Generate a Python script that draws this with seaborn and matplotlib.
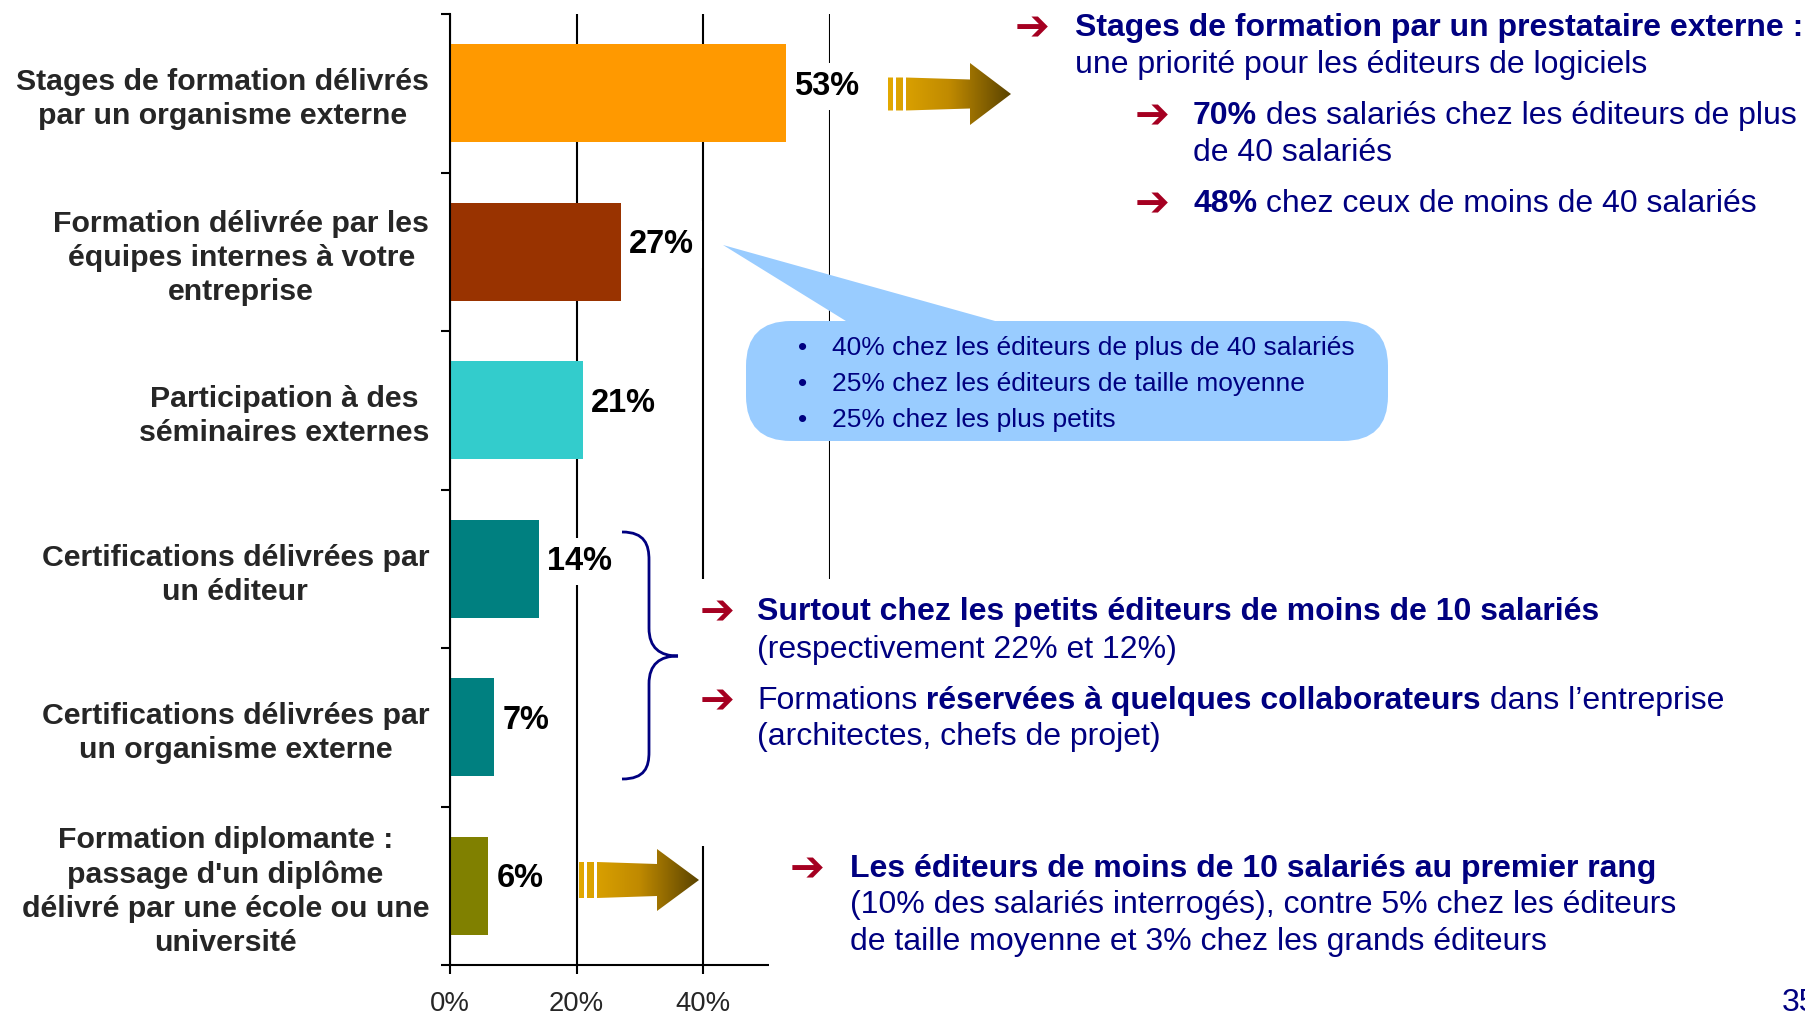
import numpy as np
import pandas as pd
import matplotlib.pyplot as plt
import seaborn as sns
from matplotlib.patches import Rectangle, Polygon, FancyBboxPatch, PathPatch
from matplotlib.path import Path
from matplotlib.colors import LinearSegmentedColormap
from matplotlib.ticker import FixedLocator, PercentFormatter

# --- donnees du graphique ---
categories = [
    "Stages de formation délivrés\npar un organisme externe",
    "Formation délivrée par les\néquipes internes à votre\nentreprise",
    "Participation à des\nséminaires externes",
    "Certifications délivrées par\nun éditeur",
    "Certifications délivrées par\nun organisme externe",
    "Formation diplomante :\npassage d'un diplôme\ndélivré par une école ou une\nuniversité",
]
values = [53, 27, 21, 14, 7, 6]
bar_colors = ["#FF9900", "#993300", "#33CCCC", "#008080", "#008080", "#808000"]
x_ticks = [0, 20, 40, 60]

bubble_lines = [
    "40% chez les éditeurs de plus de 40 salariés",
    "25% chez les éditeurs de taille moyenne",
    "25% chez les plus petits",
]

# commentaires (morceaux de texte, gras ou non)
note_top = [
    [("Stages de formation par un prestataire externe :", True)],
    [("une priorité pour les éditeurs de logiciels", False)],
]
note_top_70 = [
    [("70%", True), (" des salariés chez les éditeurs de plus", False)],
    [("de 40 salariés", False)],
]
note_top_48 = [
    [("48%", True), (" chez ceux de moins de 40 salariés", False)],
]
note_mid_1 = [
    [("Surtout chez les petits éditeurs de moins de 10 salariés", True)],
    [("(respectivement 22% et 12%)", False)],
]
note_mid_2 = [
    [("Formations", False), (" réservées à quelques collaborateurs", True),
     (" dans l’entreprise", False)],
    [("(architectes, chefs de projet)", False)],
]
note_bottom = [
    [("Les éditeurs de moins de 10 salariés au premier rang", True)],
    [("(10% des salariés interrogés), contre 5% chez les éditeurs", False)],
    [("de taille moyenne et 3% chez les grands éditeurs", False)],
]
page_number = "35"

NAVY = "#000080"
RED = "#A50021"
W, H = 1805, 1014

sns.set_style("white")
plt.rcParams["font.family"] = ["Liberation Sans", "DejaVu Sans"]

fig = plt.figure(figsize=(W / 100, H / 100), dpi=100)
ax = fig.add_axes([450 / W, 49 / H, 380 / W, 951 / H])

df = pd.DataFrame({"categorie": categories, "pct": values})
sns.barplot(data=df, x="pct", y="categorie", hue="categorie", palette=bar_colors,
            width=0.62, saturation=1, errorbar=None, legend=False, linewidth=0, ax=ax)

ax.set_xlim(0, 60)
ax.set_xticks(x_ticks)
ax.xaxis.set_major_formatter(PercentFormatter(decimals=0))
ax.set_xlabel("")
ax.set_ylabel("")
ax.set_axisbelow(True)
ax.xaxis.grid(True, color="black", linewidth=1.5)
for side in ["top", "right"]:
    ax.spines[side].set_visible(False)
for side in ["left", "bottom"]:
    ax.spines[side].set_color("black")
    ax.spines[side].set_linewidth(1.5)

ax.yaxis.set_minor_locator(FixedLocator(np.arange(-0.5, len(categories), 1)))
ax.tick_params(axis="y", which="both", left=True)
ax.tick_params(axis="x", which="major", bottom=True)
ax.tick_params(axis="y", which="major", length=0, pad=15)
ax.tick_params(axis="y", which="minor", length=6.5, width=1.5, color="black", direction="out")
ax.tick_params(axis="x", which="major", length=6.5, width=1.5, color="black",
               direction="out", pad=12.5, labelsize=19.8)
for lbl in ax.get_yticklabels():
    lbl.set_fontsize(21.8)
    lbl.set_fontweight("bold")
    lbl.set_multialignment("center")
    lbl.set_linespacing(1.28)

for i, v in enumerate(values):
    ax.annotate(f"{v}%", xy=(v, i), xytext=(6, 5), textcoords="offset points",
                ha="left", va="center", fontsize=23.5, fontweight="bold", color="black",
                bbox=dict(boxstyle="square,pad=0.25", fc="white", ec="none"), zorder=5)

# --- calque d'annotations en pixels ---
ov = fig.add_axes([0, 0, 1, 1], zorder=5)
ov.set_xlim(0, W)
ov.set_ylim(H, 0)
ov.set_autoscale_on(False)
ov.axis("off")
renderer = fig.canvas.get_renderer()

# zones blanches des encadres de texte
ov.add_patch(Rectangle((696, 579), W - 696, 267, fc="white", ec="none", zorder=1))
ov.add_patch(Rectangle((769, 846), W - 769, H - 846, fc="white", ec="none", zorder=1))


def write_line(x, y, parts, size=23):
    for txt, bold in parts:
        t = ov.text(x, y, txt, fontsize=size, fontweight="bold" if bold else "normal",
                    color=NAVY, ha="left", va="center", zorder=6)
        x = t.get_window_extent(renderer).x1


def note(x_arrow, x_text, y0, lines, dy=37):
    ov.text(x_arrow, y0, "➔", family="DejaVu Sans", fontsize=30, fontweight="bold",
            color=RED, ha="left", va="center", zorder=6)
    for k, parts in enumerate(lines):
        write_line(x_text, y0 + k * dy, parts)


note(1015, 1075, 28, note_top)
note(1135, 1193, 116, note_top_70)
note(1135, 1193, 204, note_top_48)
note(700, 757, 612, note_mid_1, dy=38)
note(700, 757, 701, note_mid_2, dy=36)
note(790, 850, 869, note_bottom, dy=36.5)

ov.text(1782, 1003, page_number, fontsize=23, color=NAVY, ha="left", va="center")

# bulle
bubble_color = "#99CCFF"
ov.add_patch(Polygon([(723, 245), (854, 326), (1013, 326)], closed=True,
                     fc=bubble_color, ec="none", zorder=3))
ov.add_patch(FancyBboxPatch((746, 321), 642, 120, boxstyle="round,pad=0,rounding_size=45",
                            fc=bubble_color, ec="none", zorder=3))
for k, line in enumerate(bubble_lines):
    y = 348 + k * 36
    ov.text(798, y, "•", fontsize=19, color=NAVY, ha="left", va="center", zorder=6)
    ov.text(832, y, line, fontsize=19, color=NAVY, ha="left", va="center", zorder=6)

# accolade
brace = Path(
    [(622, 532), (645, 532), (649, 545), (649, 560),
     (649, 628),
     (649, 648), (660, 656), (678, 656),
     (660, 656), (649, 664), (649, 684),
     (649, 752),
     (649, 767), (645, 779), (622, 779)],
    [Path.MOVETO, Path.CURVE4, Path.CURVE4, Path.CURVE4,
     Path.LINETO,
     Path.CURVE4, Path.CURVE4, Path.CURVE4,
     Path.CURVE4, Path.CURVE4, Path.CURVE4,
     Path.LINETO,
     Path.CURVE4, Path.CURVE4, Path.CURVE4],
)
ov.add_patch(PathPatch(brace, fc="none", ec=NAVY, lw=2, zorder=4))

# fleches degradees
arrow_cmap = LinearSegmentedColormap.from_list("arrow", ["#E3A900", "#C08A00", "#5A4300"])


def gradient_arrow(x0, x_head, x_tip, yc, shaft_h, head_h):
    s = shaft_h / 2
    h = head_h / 2
    shapes = [
        [(x0, yc - s), (x0 + 5, yc - s), (x0 + 5, yc + s), (x0, yc + s)],
        [(x0 + 8, yc - s), (x0 + 15, yc - s), (x0 + 15, yc + s), (x0 + 8, yc + s)],
        [(x0 + 18, yc - s), (x_head, yc - s + 2), (x_head, yc - h), (x_tip, yc),
         (x_head, yc + h), (x_head, yc + s - 2), (x0 + 18, yc + s)],
    ]
    path = Path.make_compound_path(*[Path(pts + [pts[0]], closed=True) for pts in shapes])
    clip = PathPatch(path, transform=ov.transData, fc="none", ec="none")
    ov.add_patch(clip)
    grad = np.linspace(0, 1, 256).reshape(1, -1)
    im = ov.imshow(grad, extent=(x0, x_tip, yc + h, yc - h), cmap=arrow_cmap,
                   aspect="auto", zorder=4)
    im.set_clip_path(clip)


gradient_arrow(888, 970, 1011, 94, 33, 62)
gradient_arrow(579, 657, 699, 880, 36, 62)

fig.savefig("out.png", dpi=100)
